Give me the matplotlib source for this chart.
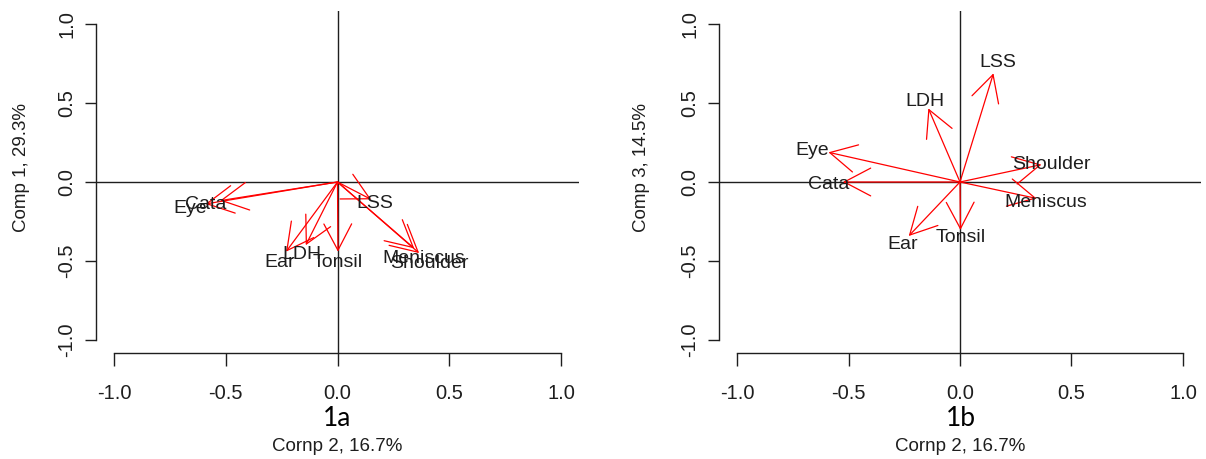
import numpy as np
import matplotlib
matplotlib.use('Agg')
import matplotlib.pyplot as plt

# ---------------- data ----------------
variables = ['LSS', 'LDH', 'Eye', 'Cata', 'Ear', 'Tonsil', 'Shoulder', 'Meniscus']
comp2 = [0.150, -0.142, -0.590, -0.525, -0.230, 0.002, 0.365, 0.343]
comp1 = [-0.110, -0.400, -0.139, -0.118, -0.441, -0.441, -0.450, -0.420]
comp3 = [0.688, 0.466, 0.188, 0.000, -0.342, -0.304, 0.110, -0.104]

xlabel_text = 'Cornp 2, 16.7%'
ylabel_texts = ['Comp 1, 29.3%', 'Comp 3, 14.5%']
panel_tags = ['1a', '1b']
tick_values = [-1.0, -0.5, 0.0, 0.5, 1.0]
tick_labels = ['-1.0', '-0.5', '0.0', '0.5', '1.0']

# ---------------- style ----------------
W, H = 1206, 459
plt.rcParams['font.family'] = ['Liberation Sans', 'DejaVu Sans']
fig = plt.figure(figsize=(W / 100, H / 100), dpi=100)
fig.patch.set_facecolor('white')

ink = '#1e1e1e'
label_scale = 1.12

# plot regions in pixels (left, top, right, bottom)
regions = [(96.0, 11.4, 579.0, 352.6), (719.2, 11.4, 1200.8, 352.6)]
ylabel_px = [(21.7, 168.0), (641.7, 168.0)]
xlabel_px = [(337.0, 446.7), (960.0, 446.7)]
tag_px = [(337.0, 418.0), (961.0, 418.0)]

y_series = [comp1, comp3]


def fx(x):
    return x / W


def fy(y):
    return 1 - y / H


for i, (l, t, r, b) in enumerate(regions):
    ax = fig.add_axes([l / W, 1 - b / H, (r - l) / W, (b - t) / H])
    ax.set_xlim(-1.08, 1.08)
    ax.set_ylim(-1.08, 1.08)
    for s in ['top', 'right']:
        ax.spines[s].set_visible(False)
    for s in ['left', 'bottom']:
        ax.spines[s].set_bounds(-1, 1)
        ax.spines[s].set_linewidth(1.0)
        ax.spines[s].set_color(ink)
    ax.set_xticks(tick_values, tick_labels)
    ax.set_yticks(tick_values, tick_labels)
    ax.tick_params(axis='x', length=9.4, width=1.0, pad=13, labelsize=14.5,
                   color=ink, labelcolor=ink)
    ax.tick_params(axis='y', length=7.9, width=1.0, pad=6.5, labelsize=14.5,
                   color=ink, labelcolor=ink)
    for lab in ax.get_yticklabels():
        lab.set_rotation(90)
        lab.set_va('center')

    ax.axhline(0, color=ink, lw=1.0, zorder=1)
    ax.axvline(0, color=ink, lw=1.0, zorder=1)

    ys = y_series[i]
    for name, xv, yv in zip(variables, comp2, ys):
        ax.annotate('', xy=(xv, yv), xytext=(0, 0),
                    arrowprops=dict(arrowstyle='->,head_length=1.9,head_width=1.0',
                                    mutation_scale=10, color='#ff0000', lw=0.9,
                                    shrinkA=0, shrinkB=0), zorder=3)
        ax.text(xv * label_scale, yv * label_scale, name, fontsize=14,
                color=ink, ha='center', va='center_baseline', zorder=4)

    fig.text(fx(ylabel_px[i][0]), fy(ylabel_px[i][1]), ylabel_texts[i],
             rotation=90, ha='center', va='center', fontsize=13.5, color=ink)
    fig.text(fx(xlabel_px[i][0]), fy(xlabel_px[i][1]), xlabel_text,
             ha='center', va='center', fontsize=13.5, color=ink)
    fig.text(fx(tag_px[i][0]), fy(tag_px[i][1]), panel_tags[i],
             ha='center', va='center', fontsize=19, color='black',
             family=['Lato', 'DejaVu Sans'])

fig.savefig('out.png', dpi=100)
